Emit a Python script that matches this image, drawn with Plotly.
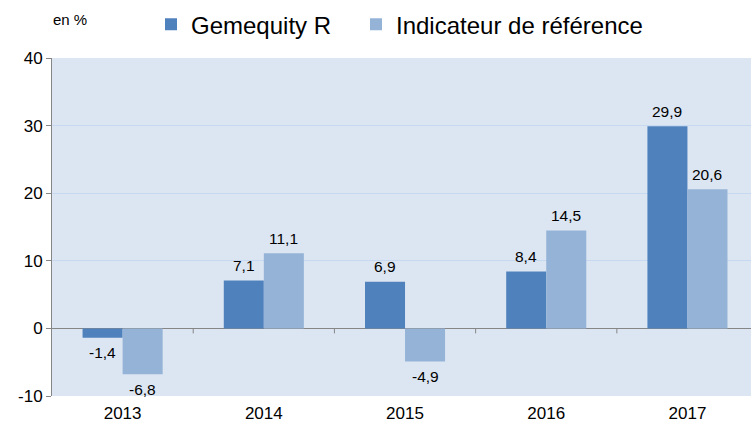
import plotly.graph_objects as go

years = ["2013", "2014", "2015", "2016", "2017"]
gemequity = [-1.4, 7.1, 6.9, 8.4, 29.9]
indicateur = [-6.8, 11.1, -4.9, 14.5, 20.6]
series_names = ["Gemequity R", "Indicateur de référence"]
y_ticks = [-10, 0, 10, 20, 30, 40]

dark = "#4f81bd"
light = "#95b3d7"
FONT = "Liberation Sans, Arial"

fig = go.Figure()
fig.add_trace(go.Bar(x=years, y=gemequity, name=series_names[0], marker_color=dark,
                     marker_line_width=0, legend="legend"))
fig.add_trace(go.Bar(x=years, y=indicateur, name=series_names[1], marker_color=light,
                     marker_line_width=0, legend="legend2"))

def fmt(v):
    return f"{v:.1f}".replace(".", ",")

ann = []
for vals, xs in ((gemequity, -20), (indicateur, 20)):
    for i, v in enumerate(vals):
        ann.append(dict(x=i, y=v, xref="x", yref="y", text=fmt(v), showarrow=False,
                        xshift=xs, yshift=15 if v >= 0 else -15,
                        font=dict(family=FONT, size=15.5, color="#000")))
ann.append(dict(x=0, y=1, xref="paper", yref="paper", text="en %", showarrow=False,
                xanchor="left", yanchor="bottom", xshift=-1, yshift=28,
                font=dict(family=FONT, size=15, color="#000")))

shapes = []
for i in range(len(years) - 1):
    shapes.append(dict(type="line", xref="x", yref="y", x0=i + 0.5, x1=i + 0.5,
                       ysizemode="pixel", yanchor=0, y0=0, y1=-5,
                       line=dict(color="#868686", width=1)))

legend_common = dict(orientation="h", xanchor="left", y=1.165, yanchor="top",
                     font=dict(family=FONT, size=24, color="#000"),
                     bgcolor="rgba(0,0,0,0)")

fig.update_layout(
    width=751, height=425,
    margin=dict(l=52, r=0, t=58, b=29, autoexpand=False),
    paper_bgcolor="white",
    plot_bgcolor="#dce6f2",
    barmode="group",
    bargap=0.433,
    bargroupgap=0,
    showlegend=True,
    legend=dict(x=(151 - 52) / 699, **legend_common),
    legend2=dict(x=(356 - 52) / 699, **legend_common),
    annotations=ann,
    shapes=shapes,
    xaxis=dict(type="category", range=[-0.5, 4.45], showgrid=False, showline=False,
               ticks="", automargin=False, ticklabelstandoff=5,
               tickfont=dict(family=FONT, size=17, color="#000")),
    yaxis=dict(range=[-10, 40], tickvals=y_ticks, ticktext=[str(t) for t in y_ticks],
               showgrid=True, gridcolor="#c6d9f1", gridwidth=1,
               zeroline=True, zerolinecolor="#868686", zerolinewidth=1,
               showline=True, linecolor="#868686", linewidth=1,
               ticks="outside", ticklen=5, tickcolor="#868686", automargin=False,
               tickfont=dict(family=FONT, size=17, color="#000")),
)
fig.write_html("out.html", config={"displayModeBar": False},
               post_script="document.body.style.margin='0';")
